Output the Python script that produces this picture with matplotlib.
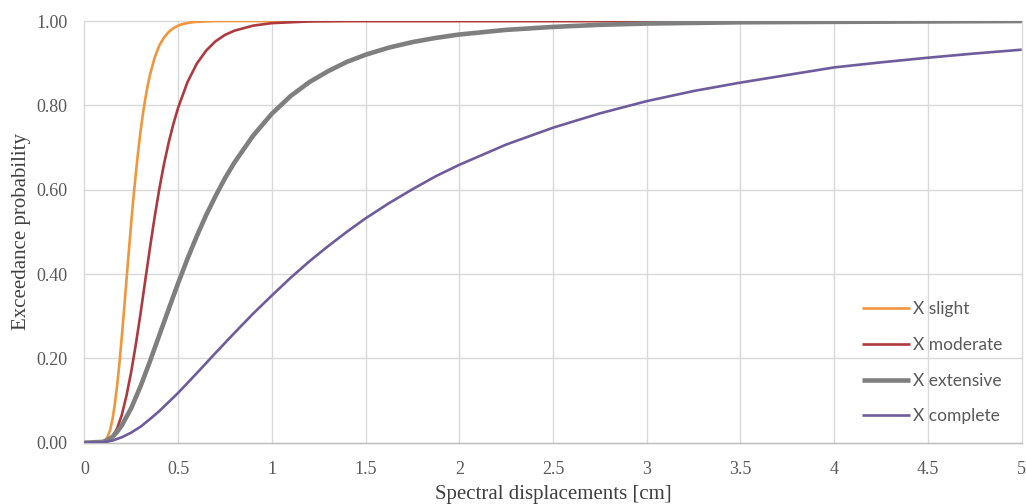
import matplotlib
matplotlib.use("Agg")
import matplotlib.pyplot as plt

# Spectral displacement [cm] and exceedance probability per damage state
x_slight = [0, 0.1, 0.1125, 0.125, 0.1375, 0.15, 0.1625, 0.175, 0.1875, 0.2, 0.2125, 0.225, 0.2375,
            0.25, 0.2625, 0.275, 0.2875, 0.3, 0.3125, 0.325, 0.3375, 0.35, 0.375, 0.4, 0.425, 0.45,
            0.475, 0.5, 0.525, 0.55, 0.575, 0.6, 0.65, 0.7, 0.8, 5.0]
slight = [0, 0.002, 0.006, 0.015, 0.030, 0.055, 0.091, 0.136, 0.190, 0.252, 0.318, 0.387, 0.455,
          0.521, 0.583, 0.640, 0.692, 0.739, 0.780, 0.815, 0.846, 0.872, 0.913, 0.942, 0.961, 0.974,
          0.983, 0.989, 0.993, 0.995, 0.997, 0.998, 0.999, 1.0, 1.0, 1.0]

x_moderate = [0, 0.1, 0.125, 0.15, 0.175, 0.2, 0.225, 0.25, 0.275, 0.3, 0.325, 0.35, 0.375, 0.4,
              0.425, 0.45, 0.475, 0.5, 0.55, 0.6, 0.65, 0.7, 0.75, 0.8, 0.9, 1.0, 1.1, 1.2, 1.4,
              1.6, 5.0]
moderate = [0, 0.001, 0.004, 0.014, 0.034, 0.066, 0.112, 0.168, 0.234, 0.307, 0.385, 0.462, 0.535, 0.602,
            0.661, 0.712, 0.756, 0.794, 0.855, 0.899, 0.930, 0.952, 0.967, 0.977, 0.989, 0.995, 0.997,
            0.999, 1.0, 1.0, 1.0]

x_extensive = [0, 0.1, 0.125, 0.15, 0.175, 0.2, 0.25, 0.3, 0.35, 0.4, 0.45, 0.5, 0.55, 0.6, 0.65,
               0.7, 0.75, 0.8, 0.9, 1.0, 1.1, 1.2, 1.3, 1.4, 1.5, 1.625, 1.75, 1.875, 2.0, 2.25,
               2.5, 2.75, 3.0, 3.5, 4.0, 4.5, 5.0]
extensive = [0, 0.002, 0.007, 0.014, 0.026, 0.041, 0.082, 0.134, 0.193, 0.255, 0.317, 0.378, 0.436,
             0.490, 0.540, 0.585, 0.627, 0.664, 0.728, 0.780, 0.822, 0.855, 0.881, 0.903, 0.920,
             0.937, 0.950, 0.960, 0.968, 0.979, 0.986, 0.991, 0.994, 0.997, 0.998, 0.999, 1.0]

x_complete = [0, 0.1, 0.15, 0.2, 0.25, 0.3, 0.35, 0.4, 0.5, 0.6, 0.7, 0.8, 0.9, 1.0, 1.1, 1.2,
              1.3, 1.4, 1.5, 1.625, 1.75, 1.875, 2.0, 2.25, 2.5, 2.75, 3.0, 3.25, 3.5, 3.75, 4.0,
              4.25, 4.5, 4.75, 5.0]
complete = [0, 0.001, 0.005, 0.013, 0.024, 0.038, 0.056, 0.075, 0.118, 0.165, 0.213, 0.260, 0.306,
            0.349, 0.391, 0.430, 0.466, 0.500, 0.532, 0.568, 0.601, 0.632, 0.659, 0.707, 0.747,
            0.781, 0.810, 0.834, 0.854, 0.872, 0.890, 0.902, 0.913, 0.923, 0.932]

labels = ["X slight", "X moderate", "X extensive", "X complete"]
colors = ["#F0963C", "#AE3A3F", "#7F7F7F", "#6E5C9C"]
widths = [1.9, 1.9, 3.3, 1.9]
xticks = [0, 0.5, 1, 1.5, 2, 2.5, 3, 3.5, 4, 4.5, 5]
xticklabels = ["0", "0.5", "1", "1.5", "2", "2.5", "3", "3.5", "4", "4.5", "5"]
yticks = [0.0, 0.2, 0.4, 0.6, 0.8, 1.0]
yticklabels = ["0.00", "0.20", "0.40", "0.60", "0.80", "1.00"]

fig = plt.figure(figsize=(10.26, 5.04), dpi=100)
ax = fig.add_axes([0.0822, 0.1216, 0.9136, 0.8367])

xs = [x_slight, x_moderate, x_extensive, x_complete]
series = [slight, moderate, extensive, complete]
for xv, y, lab, c, w in zip(xs, series, labels, colors, widths):
    ax.plot(xv, y, color=c, lw=w, label=lab, solid_capstyle="butt",
            solid_joinstyle="round", zorder=3)

ax.set_xlim(0, 5)
ax.set_ylim(0, 1)
ax.set_xticks(xticks)
ax.set_xticklabels(xticklabels)
ax.set_yticks(yticks)
ax.set_yticklabels(yticklabels)

serif = "Liberation Serif"
for t in ax.get_xticklabels() + ax.get_yticklabels():
    t.set_family(serif)
    t.set_fontsize(13)
    t.set_color("#595959")
ax.tick_params(axis="both", length=0)
ax.tick_params(axis="x", pad=13)
ax.tick_params(axis="y", pad=12)

ax.grid(True, color="#D9D9D9", lw=1.0, zorder=0)
for line in ax.get_xgridlines() + ax.get_ygridlines():
    line.set_clip_on(False)
for s in ["top", "right", "left"]:
    ax.spines[s].set_visible(False)
ax.spines["bottom"].set_color("#BFBFBF")
ax.spines["bottom"].set_linewidth(1.0)

ax.set_xlabel("Spectral displacements [cm]", family=serif, fontsize=15, color="#404040", labelpad=5)
ax.set_ylabel("Exceedance probability", family=serif, fontsize=15, color="#404040", labelpad=4)

leg = ax.legend(loc="upper left", bbox_to_anchor=(0.8297, 0.336), frameon=False,
                borderpad=0, borderaxespad=0, handlelength=2.75, handletextpad=0.2,
                labelspacing=1.14, prop={"family": "Lato", "size": 12.5})
for t in leg.get_texts():
    t.set_color("#595959")

fig.savefig("out.png", dpi=100)
